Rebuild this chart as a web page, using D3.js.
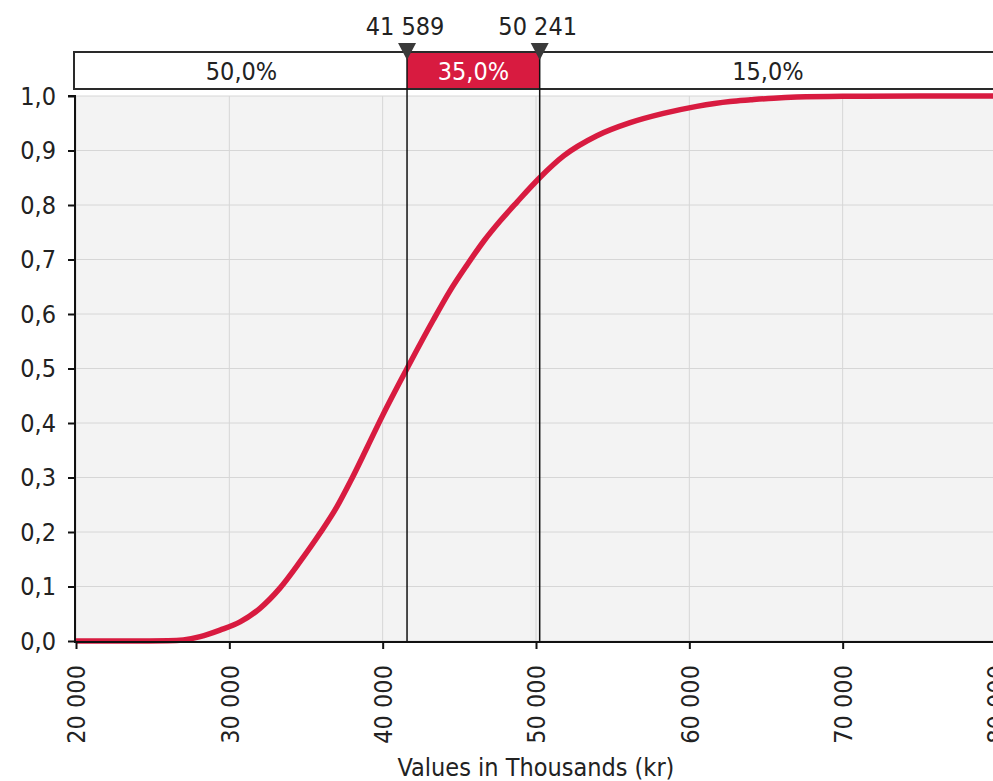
<!DOCTYPE html>
<html>
<head>
<meta charset="utf-8">
<script src="https://cdn.jsdelivr.net/npm/d3@7"></script>
<style>
  html, body { margin: 0; padding: 0; background: #ffffff; }
  svg { display: block; }
  text { font-family: "DejaVu Sans Condensed", "DejaVu Sans", sans-serif; font-stretch: condensed; fill: #222; }
</style>
</head>
<body>
<svg id="chart" width="993" height="781"></svg>
<script>
// ---- data ----
const cdfX = [20000, 24000, 26000, 27000, 28100, 29390, 30700, 32000, 33300, 34610, 35920, 37010, 37900, 39000, 40000, 41589, 43300, 44400, 45500, 46600, 47700, 48750, 50241, 51800, 53970, 56140, 58310, 60490, 62660, 64000, 65500, 67000, 70000, 75000, 80000];
const cdfP = [0, 0, 0.0005, 0.002, 0.008, 0.02, 0.035, 0.06, 0.097, 0.1455, 0.198, 0.246, 0.293, 0.356, 0.414, 0.5, 0.589, 0.643, 0.69, 0.734, 0.772, 0.805, 0.85, 0.89, 0.927, 0.951, 0.968, 0.981, 0.99, 0.993, 0.996, 0.998, 0.9995, 1.0, 1.0];
const markerValues = [41589, 50241];
const markerLabels = ["41 589", "50 241"];
const bandLabels = ["50,0%", "35,0%", "15,0%"];
const xTicks = [20000, 30000, 40000, 50000, 60000, 70000, 80000];
const xTickLabels = ["20 000", "30 000", "40 000", "50 000", "60 000", "70 000", "80 000"];
const yTicks = [0, 0.1, 0.2, 0.3, 0.4, 0.5, 0.6, 0.7, 0.8, 0.9, 1.0];
const yTickLabels = ["0,0", "0,1", "0,2", "0,3", "0,4", "0,5", "0,6", "0,7", "0,8", "0,9", "1,0"];
const xTitle = "Values in Thousands (kr)";

// ---- layout ----
const FS = 25;
const svg = d3.select("#chart");
const x = d3.scaleLinear().domain([20000, 80000]).range([76, 996]);
const y = d3.scaleLinear().domain([0, 1]).range([641, 96]);
const red = "#d81b40";

// plot background
svg.append("rect")
  .attr("x", x(20000)).attr("y", y(1))
  .attr("width", x(80000) - x(20000)).attr("height", y(0) - y(1))
  .attr("fill", "#f3f3f3");

// grid
svg.append("g").selectAll("line.v").data(xTicks).join("line")
  .attr("x1", d => x(d)).attr("x2", d => x(d))
  .attr("y1", y(1)).attr("y2", y(0))
  .attr("stroke", "#d6d6d6").attr("stroke-width", 1);
svg.append("g").selectAll("line.h").data(yTicks).join("line")
  .attr("x1", x(20000)).attr("x2", x(80000))
  .attr("y1", d => y(d)).attr("y2", d => y(d))
  .attr("stroke", "#d6d6d6").attr("stroke-width", 1);

// curve
const pts = cdfX.map((v, i) => [v, cdfP[i]]);
const line = d3.line().x(d => x(d[0])).y(d => y(d[1])).curve(d3.curveMonotoneX);
svg.append("path").datum(pts)
  .attr("d", line)
  .attr("fill", "none")
  .attr("stroke", red)
  .attr("stroke-width", 5.5)
  .attr("stroke-linejoin", "round");

// axes
const yAxis = d3.axisLeft(y).tickValues(yTicks)
  .tickFormat((d, i) => yTickLabels[i]).tickSize(7).tickPadding(12);
const gy = svg.append("g").attr("transform", `translate(${x(20000) - 1},0)`).call(yAxis);
gy.select(".domain").attr("stroke", "#111").attr("stroke-width", 2).attr("d", `M-7,${y(1)}H0V${y(0) + 1}`);
gy.selectAll(".tick line").attr("stroke", "#111").attr("stroke-width", 2);
gy.selectAll(".tick text").attr("font-size", FS).attr("fill", "#222")
  .style("font-family", '"DejaVu Sans Condensed", "DejaVu Sans", sans-serif');

const xAxis = d3.axisBottom(x).tickValues(xTicks).tickFormat((d, i) => xTickLabels[i]).tickSize(7);
const gx = svg.append("g").attr("transform", `translate(0,${y(0) + 1})`).call(xAxis);
gx.select(".domain").attr("stroke", "#111").attr("stroke-width", 2).attr("d", `M${x(20000) - 2},0H${x(80000)}`);
gx.selectAll(".tick line").attr("stroke", "#111").attr("stroke-width", 2);
gx.selectAll(".tick text")
  .attr("font-size", FS)
  .style("font-family", '"DejaVu Sans Condensed", "DejaVu Sans", sans-serif')
  .attr("text-anchor", "end")
  .attr("dy", "0.35em")
  .attr("y", 0)
  .attr("transform", "translate(0,23) rotate(-90)")
  .attr("x", 0);

// axis title
svg.append("text")
  .attr("x", (x(20000) + x(80000)) / 2)
  .attr("y", 776)
  .attr("text-anchor", "middle")
  .attr("font-size", FS)
  .text(xTitle);

// band box
const bandTop = 52, bandBot = 89;
const edges = [20000, ...markerValues, 80000];
svg.append("rect")
  .attr("x", x(20000) - 2).attr("y", bandTop)
  .attr("width", x(80000) - x(20000) + 2).attr("height", bandBot - bandTop)
  .attr("fill", "#ffffff");
svg.append("rect")
  .attr("x", x(markerValues[0])).attr("y", bandTop)
  .attr("width", x(markerValues[1]) - x(markerValues[0])).attr("height", bandBot - bandTop)
  .attr("fill", red);
svg.append("rect")
  .attr("x", x(20000) - 2).attr("y", bandTop)
  .attr("width", x(80000) - x(20000) + 2).attr("height", bandBot - bandTop)
  .attr("fill", "none").attr("stroke", "#2a2a2a").attr("stroke-width", 2);
svg.append("g").selectAll("text").data(bandLabels).join("text")
  .attr("x", (d, i) => (x(edges[i]) + x(edges[i + 1])) / 2)
  .attr("y", 80)
  .attr("text-anchor", "middle")
  .attr("font-size", FS)
  .style("fill", (d, i) => i === 1 ? "#ffffff" : "#222")
  .text(d => d);

// markers
const mg = svg.append("g").selectAll("g").data(markerValues).join("g");
mg.append("line")
  .attr("x1", d => x(d)).attr("x2", d => x(d))
  .attr("y1", 56).attr("y2", y(0))
  .attr("stroke", "#111").attr("stroke-width", 1.5);
mg.append("path")
  .attr("d", d => `M${x(d) - 9},43 L${x(d) + 9},43 L${x(d)},60 Z`)
  .attr("fill", "#3a3a3a");
mg.append("text")
  .attr("x", d => x(d) - 2)
  .attr("y", 35)
  .attr("text-anchor", "middle")
  .attr("font-size", FS)
  .text((d, i) => markerLabels[i]);
</script>
</body>
</html>
